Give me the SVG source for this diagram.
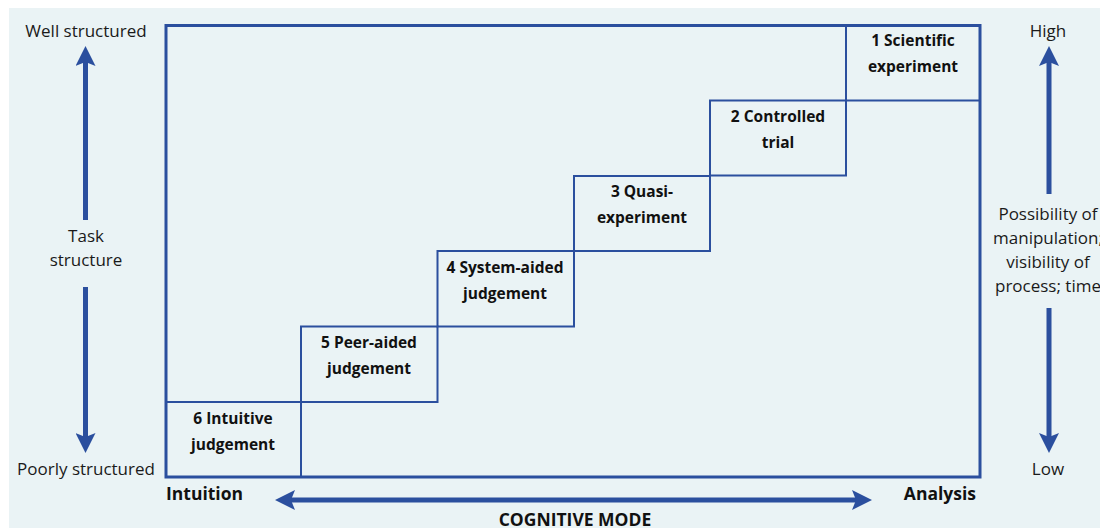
<svg xmlns="http://www.w3.org/2000/svg" width="1100" height="528" viewBox="0 0 1100 528">
  <defs>
    <style>
      .bg { fill: #eaf3f5; }
      .frame { fill: none; stroke: #2b4f9e; stroke-width: 3; }
      .step { fill: none; stroke: #2b4f9e; stroke-width: 2; }
      .axis { stroke: #2b4f9e; stroke-width: 5; fill: none; }
      .lbl { font-family: "Open Sans", "Noto Sans", sans-serif; font-size: 17px; fill: #1a1a1a; text-anchor: middle; }
      .step-lbl { font-family: "Open Sans", "Noto Sans", sans-serif; font-size: 15.5px; font-weight: bold; fill: #111; text-anchor: middle; }
      .mode { font-family: "Open Sans", "Noto Sans", sans-serif; font-size: 17.5px; font-weight: bold; fill: #111; }
    </style>
    <marker id="head" viewBox="0 0 10 10" refX="2" refY="5" markerWidth="4" markerHeight="4" orient="auto-start-reverse" markerUnits="strokeWidth">
      <path d="M0,0 L10,5 L0,10 L2,5 Z" fill="#2b4f9e"/>
    </marker>
  </defs>

  <rect class="bg" x="9" y="8" width="1091" height="520"/>

  <!-- outer frame -->
  <rect id="frame" class="frame" x="166" y="25.5" width="814" height="451.5"/>

  <!-- staircase of decision modes -->
  <g id="step1"><rect class="step" x="846" y="25.5" width="134" height="75"/>
    <text class="step-lbl" x="913" y="46">1 Scientific</text>
    <text class="step-lbl" x="913" y="72">experiment</text></g>
  <g id="step2"><rect class="step" x="710" y="100.5" width="136" height="75"/>
    <text class="step-lbl" x="778" y="122">2 Controlled</text>
    <text class="step-lbl" x="778" y="148">trial</text></g>
  <g id="step3"><rect class="step" x="574" y="176" width="136" height="75"/>
    <text class="step-lbl" x="642" y="197">3 Quasi-</text>
    <text class="step-lbl" x="642" y="223">experiment</text></g>
  <g id="step4"><rect class="step" x="437.5" y="251" width="136.5" height="75.5"/>
    <text class="step-lbl" x="505" y="273">4 System-aided</text>
    <text class="step-lbl" x="505" y="299">judgement</text></g>
  <g id="step5"><rect class="step" x="301" y="326.5" width="136.5" height="75.5"/>
    <text class="step-lbl" x="369" y="348">5 Peer-aided</text>
    <text class="step-lbl" x="369" y="374">judgement</text></g>
  <g id="step6"><rect class="step" x="166" y="402" width="135" height="75"/>
    <text class="step-lbl" x="233" y="424">6 Intuitive</text>
    <text class="step-lbl" x="233" y="450">judgement</text></g>

  <!-- axes -->
  <g id="connectors">
    <line class="axis" x1="85.5" y1="220" x2="85.5" y2="62" marker-end="url(#head)"/>
    <line class="axis" x1="85.5" y1="287" x2="85.5" y2="437" marker-end="url(#head)"/>
    <line class="axis" x1="1049" y1="194" x2="1049" y2="62" marker-end="url(#head)"/>
    <line class="axis" x1="1049" y1="308" x2="1049" y2="437" marker-end="url(#head)"/>
    <line class="axis" x1="291" y1="500" x2="856" y2="500" stroke-width="4" marker-start="url(#head)" marker-end="url(#head)"/>
  </g>

  <!-- task structure axis labels -->
  <g id="task-axis">
    <text class="lbl" x="86" y="37">Well structured</text>
    <text class="lbl" x="86" y="242">Task</text>
    <text class="lbl" x="86" y="266">structure</text>
    <text class="lbl" x="86" y="475">Poorly structured</text>
  </g>

  <!-- manipulation axis labels -->
  <g id="manip-axis">
    <text class="lbl" x="1048" y="37">High</text>
    <text class="lbl" x="1048" y="220">Possibility of</text>
    <text class="lbl" x="1048" y="244">manipulation;</text>
    <text class="lbl" x="1048" y="268">visibility of</text>
    <text class="lbl" x="1048" y="292">process; time</text>
    <text class="lbl" x="1048" y="475">Low</text>
  </g>

  <!-- cognitive mode axis labels -->
  <g id="mode-axis">
    <text class="mode" x="166" y="500">Intuition</text>
    <text class="mode" x="976" y="500" text-anchor="end">Analysis</text>
    <text class="mode" x="575" y="526" text-anchor="middle" font-size="18">COGNITIVE MODE</text>
  </g>
</svg>
